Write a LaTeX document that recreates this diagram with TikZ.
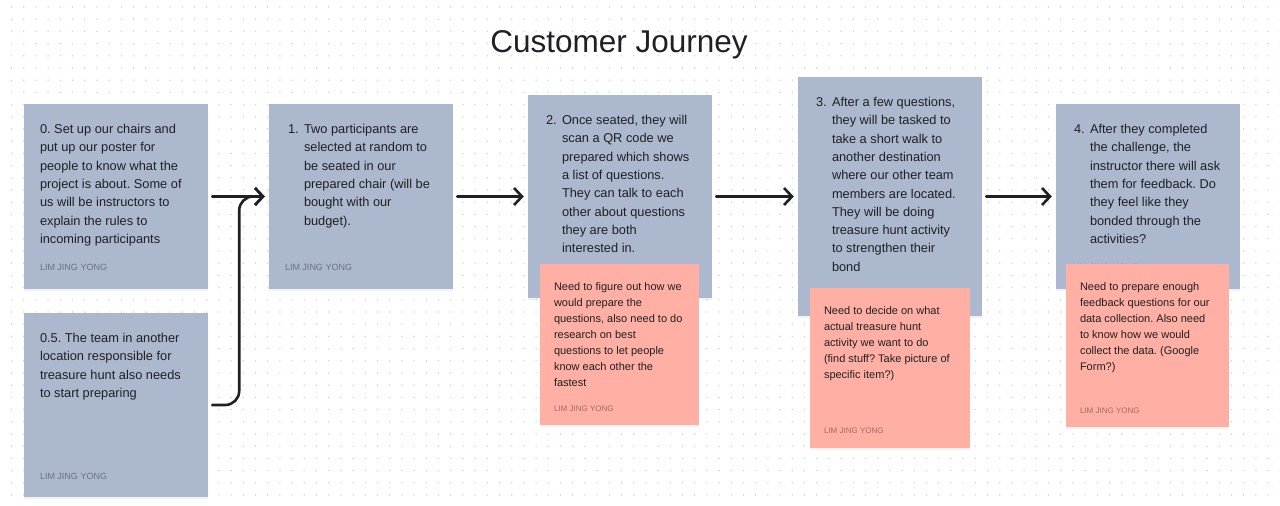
\documentclass[tikz,border=0pt]{standalone}
\usepackage{fontspec}
\setmainfont{Liberation Sans}
\usetikzlibrary{arrows.meta,positioning,shadows}
\definecolor{stickyblue}{RGB}{171,184,206}
\definecolor{stickyred}{RGB}{255,175,163}
\definecolor{inkdark}{RGB}{32,32,36}
\definecolor{inkblue}{RGB}{106,113,128}
\definecolor{inkred}{RGB}{160,108,100}
\definecolor{griddot}{RGB}{212,212,212}
\newcommand{\bluestrut}{\rule{0pt}{10pt}}
\newcommand{\redstrut}{\rule{0pt}{9pt}}
\frenchspacing
\tikzset{
  journeysticky/.style={
    rectangle,
    fill=stickyblue,
    minimum width=184pt,
    inner sep=0pt,
    drop shadow={shadow xshift=0pt, shadow yshift=-2pt, opacity=0.10}
  },
  journeynote/.style={
    rectangle,
    fill=stickyred,
    inner sep=0pt,
    drop shadow={shadow xshift=0pt, shadow yshift=-2pt, opacity=0.10}
  },
  journeytext/.style={
    anchor=north west,
    inner sep=0pt,
    align=left,
    text=inkdark,
    font=\fontsize{12.8}{18.3}\selectfont
  },
  notetext/.style={
    anchor=north west,
    inner sep=0pt,
    align=left,
    text=inkdark,
    font=\fontsize{11}{16}\selectfont
  },
  authortag/.style={
    anchor=base west,
    inner sep=0pt,
    text=inkblue,
    font=\fontsize{9}{10}\selectfont
  },
  notetag/.style={
    authortag,
    text=inkred,
    font=\fontsize{8}{9}\selectfont
  },
  journeyarrow/.style={
    -{Straight Barb[length=8pt,width=17pt]},
    line width=2.6pt,
    draw=inkdark,
    line cap=round,
    shorten <=4pt,
    shorten >=4pt
  }
}

\begin{document}
\begin{tikzpicture}[x=1pt,y=1pt]
\fill[white] (0,0) rectangle (1280,-506);
\useasboundingbox (0,0) rectangle (1280,-506);
\foreach \i in {0,...,104}
  \foreach \j in {0,...,41}
    \fill[griddot] (11.5+12.2*\i,-7-12.2*\j) circle (0.8);

\node[font=\fontsize{31.5}{36}\selectfont, text=inkdark, anchor=base] (title) at (619,-52) {Customer Journey};

\node[journeysticky, minimum height=185pt] (s0) at (116,-196.5) {};
\node[journeysticky, minimum height=184pt] (s05) at (116,-405) {};
\node[journeysticky, minimum height=185pt] (s1) at (361,-196.5) {};
\node[journeysticky, minimum height=203pt] (s2) at (620,-196.5) {};
\node[journeysticky, minimum height=239pt] (s3) at (890,-196.5) {};
\node[journeysticky, minimum height=185pt] (s4) at (1148,-196.5) {};

\node[journeytext, below right=19.5pt and 16pt of s0.north west] (t0) {\bluestrut 0. Set up our chairs and\\put up our poster for\\people to know what the\\project is about. Some of\\us will be instructors to\\explain the rules to\\incoming participants};
\node[journeytext, below right=19.5pt and 16pt of s05.north west] (t05) {\bluestrut 0.5. The team in another\\location responsible for\\treasure hunt also needs\\to start preparing};
\node[journeytext, below right=19.5pt and 19pt of s1.north west] (n1) {\bluestrut 1.};
\node[journeytext, below right=19.5pt and 35pt of s1.north west] (t1) {\bluestrut Two participants are\\selected at random to\\be seated in our\\prepared chair (will be\\bought with our\\budget).};
\node[journeytext, below right=19.5pt and 18pt of s2.north west] (n2) {\bluestrut 2.};
\node[journeytext, below right=19.5pt and 34pt of s2.north west] (t2) {\bluestrut Once seated, they will\\scan a QR code we\\prepared which shows\\a list of questions.\\They can talk to each\\other about questions\\they are both\\interested in.};
\node[journeytext, below right=19.5pt and 18pt of s3.north west] (n3) {\bluestrut 3.};
\node[journeytext, below right=19.5pt and 34pt of s3.north west] (t3) {\bluestrut After a few questions,\\they will be tasked to\\take a short walk to\\another destination\\where our other team\\members are located.\\They will be doing\\treasure hunt activity\\to strengthen their\\bond};
\node[journeytext, below right=19.5pt and 18pt of s4.north west] (n4) {\bluestrut 4.};
\node[journeytext, below right=19.5pt and 34pt of s4.north west] (t4) {\bluestrut After they completed\\the challenge, the\\instructor there will ask\\them for feedback. Do\\they feel like they\\bonded through the\\activities?};

\node[authortag] (a0) at ([shift={(16pt,19pt)}]s0.south west) {LIM JING YONG};
\node[authortag] (a05) at ([shift={(16pt,18pt)}]s05.south west) {LIM JING YONG};
\node[authortag] (a1) at ([shift={(16pt,19pt)}]s1.south west) {LIM JING YONG};
\node[authortag] (a4) at ([shift={(16pt,19pt)}]s4.south west) {LIM JING YONG};

\node[journeynote, minimum width=159pt, minimum height=161pt] (r2) at (619.5,-344.5) {};
\node[journeynote, minimum width=160pt, minimum height=160pt] (r3) at (890,-368) {};
\node[journeynote, minimum width=163pt, minimum height=163pt] (r4) at (1147.5,-345.5) {};

\node[notetext, below right=17pt and 14pt of r2.north west] (q2) {\redstrut Need to figure out how we\\would prepare the\\questions, also need to do\\research on best\\questions to let people\\know each other the\\fastest};
\node[notetext, below right=17pt and 14pt of r3.north west] (q3) {\redstrut Need to decide on what\\actual treasure hunt\\activity we want to do\\(find stuff? Take picture of\\specific item?)};
\node[notetext, below right=17pt and 14pt of r4.north west] (q4) {\redstrut Need to prepare enough\\feedback questions for our\\data collection. Also need\\to know how we would\\collect the data. (Google\\Form?)};

\node[notetag] (b2) at ([shift={(14pt,14pt)}]r2.south west) {LIM JING YONG};
\node[notetag] (b3) at ([shift={(14pt,15pt)}]r3.south west) {LIM JING YONG};
\node[notetag] (b4) at ([shift={(14pt,14pt)}]r4.south west) {LIM JING YONG};

\draw[journeyarrow] (s0.east) -- (s1.west);
\draw[journeyarrow, rounded corners=14pt] (s05.east) -- ++(31,0) |- (s1.west);
\draw[journeyarrow] (s1.east) -- (s2.west);
\draw[journeyarrow] (s2.east) -- (s3.west);
\draw[journeyarrow] (s3.east) -- (s4.west);
\end{tikzpicture}
\end{document}
